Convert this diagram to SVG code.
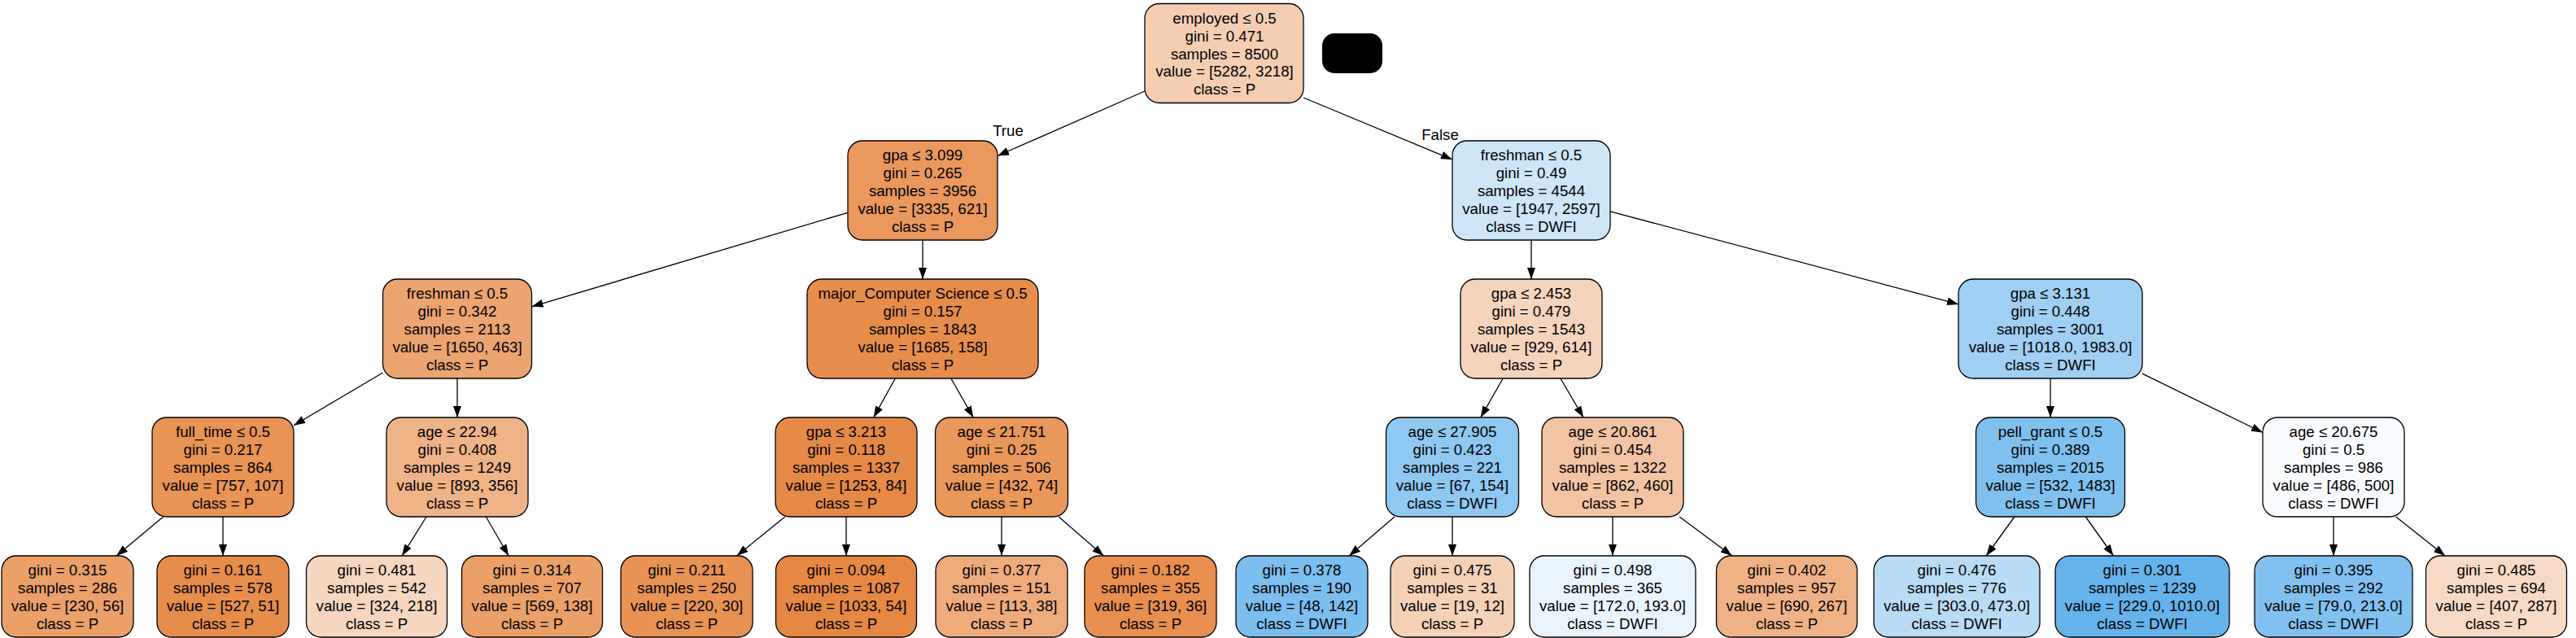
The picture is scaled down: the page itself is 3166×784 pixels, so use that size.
<svg xmlns="http://www.w3.org/2000/svg" width="3166" height="784" viewBox="0 0 3166 784">
<defs>
<style>
.node rect{stroke:#000;stroke-width:1.3}
.node text,.lbl{font-family:"Liberation Sans",Arial,Helvetica,sans-serif;font-size:18.67px;text-anchor:middle;fill:#000}
.edges path{stroke:#000;stroke-width:1.3;fill:none;marker-end:url(#ah)}
</style>
<marker id="ah" viewBox="0 0 14 10" refX="14" refY="5" markerWidth="14" markerHeight="10" markerUnits="userSpaceOnUse" orient="auto"><path d="M0,0 L14,5 L0,10 z" fill="#000"/></marker>
</defs>
<rect width="3166" height="784" fill="#fff"/>
<g class="edges" id="connectors">
<path d="M1407,112 L1226,191.5"/>
<path d="M1602,120 L1785,196"/>
<path d="M1042,261.3 L653.5,376.8"/>
<path d="M1134,295 L1134,343"/>
<path d="M1882,295 L1882,343"/>
<path d="M1979,259.8 L2407,373.9"/>
<path d="M470.5,458 L361,522.7"/>
<path d="M562,465 L562,513"/>
<path d="M1100.3,465 L1073.7,513"/>
<path d="M1168.8,465 L1196.2,513"/>
<path d="M1847.2,465 L1819.8,513"/>
<path d="M1917.9,465 L1946.1,513"/>
<path d="M2520,465 L2520,513"/>
<path d="M2633,459.2 L2781,531.5"/>
<path d="M200.7,635 L143.1,683"/>
<path d="M274,635 L274,683"/>
<path d="M524,635 L494.1,683"/>
<path d="M597.3,635 L625.1,683"/>
<path d="M964.8,635 L905.6,683"/>
<path d="M1040,635 L1040,683"/>
<path d="M1231,635 L1231,683"/>
<path d="M1301.2,635 L1356.4,683"/>
<path d="M1714,635 L1658.2,683"/>
<path d="M1785,635 L1785,683"/>
<path d="M1982,635 L1982,683"/>
<path d="M2064.1,635 L2128.7,683"/>
<path d="M2475.9,635 L2441.2,683"/>
<path d="M2563.3,635 L2597.5,683"/>
<path d="M2868,635 L2868,683"/>
<path d="M2944.7,635 L3005.1,683"/>
<text class="lbl" x="1239" y="167">True</text>
<text class="lbl" x="1770" y="172">False</text>
</g>
<rect id="blob" x="1625" y="41" width="74" height="49" rx="15" fill="#000"/>
<g id="n0" class="node"><rect x="1407" y="4.5" width="195" height="122" rx="18" fill="#f5ceb2"/><text x="1505" y="28.9">employed ≤ 0.5</text><text x="1505" y="50.7">gini = 0.471</text><text x="1505" y="72.5">samples = 8500</text><text x="1505" y="94.3">value = [5282, 3218]</text><text x="1505" y="116.1">class = P</text></g>
<g id="n1" class="node"><rect x="1042" y="173" width="184" height="122" rx="18" fill="#ea985e"/><text x="1134" y="197.4">gpa ≤ 3.099</text><text x="1134" y="219.2">gini = 0.265</text><text x="1134" y="241">samples = 3956</text><text x="1134" y="262.8">value = [3335, 621]</text><text x="1134" y="284.6">class = P</text></g>
<g id="n16" class="node"><rect x="1785" y="173" width="194" height="122" rx="18" fill="#cde6f8"/><text x="1882" y="197.4">freshman ≤ 0.5</text><text x="1882" y="219.2">gini = 0.49</text><text x="1882" y="241">samples = 4544</text><text x="1882" y="262.8">value = [1947, 2597]</text><text x="1882" y="284.6">class = DWFI</text></g>
<g id="n2" class="node"><rect x="470.5" y="343" width="183" height="122" rx="18" fill="#eca471"/><text x="562" y="367.4">freshman ≤ 0.5</text><text x="562" y="389.2">gini = 0.342</text><text x="562" y="411">samples = 2113</text><text x="562" y="432.8">value = [1650, 463]</text><text x="562" y="454.6">class = P</text></g>
<g id="n9" class="node"><rect x="992" y="343" width="284" height="122" rx="18" fill="#e78d4c"/><text x="1134" y="367.4">major_Computer Science ≤ 0.5</text><text x="1134" y="389.2">gini = 0.157</text><text x="1134" y="411">samples = 1843</text><text x="1134" y="432.8">value = [1685, 158]</text><text x="1134" y="454.6">class = P</text></g>
<g id="n17" class="node"><rect x="1795" y="343" width="174" height="122" rx="18" fill="#f6d4bc"/><text x="1882" y="367.4">gpa ≤ 2.453</text><text x="1882" y="389.2">gini = 0.479</text><text x="1882" y="411">samples = 1543</text><text x="1882" y="432.8">value = [929, 614]</text><text x="1882" y="454.6">class = P</text></g>
<g id="n24" class="node"><rect x="2407" y="343" width="226" height="122" rx="18" fill="#9fcff2"/><text x="2520" y="367.4">gpa ≤ 3.131</text><text x="2520" y="389.2">gini = 0.448</text><text x="2520" y="411">samples = 3001</text><text x="2520" y="432.8">value = [1018.0, 1983.0]</text><text x="2520" y="454.6">class = DWFI</text></g>
<g id="n3" class="node"><rect x="187" y="513" width="174" height="122" rx="18" fill="#e99355"/><text x="274" y="537.4">full_time ≤ 0.5</text><text x="274" y="559.2">gini = 0.217</text><text x="274" y="581">samples = 864</text><text x="274" y="602.8">value = [757, 107]</text><text x="274" y="624.6">class = P</text></g>
<g id="n6" class="node"><rect x="475" y="513" width="174" height="122" rx="18" fill="#efb388"/><text x="562" y="537.4">age ≤ 22.94</text><text x="562" y="559.2">gini = 0.408</text><text x="562" y="581">samples = 1249</text><text x="562" y="602.8">value = [893, 356]</text><text x="562" y="624.6">class = P</text></g>
<g id="n10" class="node"><rect x="953" y="513" width="174" height="122" rx="18" fill="#e78946"/><text x="1040" y="537.4">gpa ≤ 3.213</text><text x="1040" y="559.2">gini = 0.118</text><text x="1040" y="581">samples = 1337</text><text x="1040" y="602.8">value = [1253, 84]</text><text x="1040" y="624.6">class = P</text></g>
<g id="n13" class="node"><rect x="1149.5" y="513" width="163" height="122" rx="18" fill="#e9975b"/><text x="1231" y="537.4">age ≤ 21.751</text><text x="1231" y="559.2">gini = 0.25</text><text x="1231" y="581">samples = 506</text><text x="1231" y="602.8">value = [432, 74]</text><text x="1231" y="624.6">class = P</text></g>
<g id="n18" class="node"><rect x="1703.5" y="513" width="163" height="122" rx="18" fill="#8fc8f0"/><text x="1785" y="537.4">age ≤ 27.905</text><text x="1785" y="559.2">gini = 0.423</text><text x="1785" y="581">samples = 221</text><text x="1785" y="602.8">value = [67, 154]</text><text x="1785" y="624.6">class = DWFI</text></g>
<g id="n21" class="node"><rect x="1895" y="513" width="174" height="122" rx="18" fill="#f3c4a3"/><text x="1982" y="537.4">age ≤ 20.861</text><text x="1982" y="559.2">gini = 0.454</text><text x="1982" y="581">samples = 1322</text><text x="1982" y="602.8">value = [862, 460]</text><text x="1982" y="624.6">class = P</text></g>
<g id="n25" class="node"><rect x="2428.5" y="513" width="183" height="122" rx="18" fill="#80c0ee"/><text x="2520" y="537.4">pell_grant ≤ 0.5</text><text x="2520" y="559.2">gini = 0.389</text><text x="2520" y="581">samples = 2015</text><text x="2520" y="602.8">value = [532, 1483]</text><text x="2520" y="624.6">class = DWFI</text></g>
<g id="n28" class="node"><rect x="2781" y="513" width="174" height="122" rx="18" fill="#f9fcfe"/><text x="2868" y="537.4">age ≤ 20.675</text><text x="2868" y="559.2">gini = 0.5</text><text x="2868" y="581">samples = 986</text><text x="2868" y="602.8">value = [486, 500]</text><text x="2868" y="624.6">class = DWFI</text></g>
<g id="n4" class="node"><rect x="2" y="683" width="162" height="100" rx="18" fill="#eba069"/><text x="83" y="707.4">gini = 0.315</text><text x="83" y="729.2">samples = 286</text><text x="83" y="751">value = [230, 56]</text><text x="83" y="772.8">class = P</text></g>
<g id="n5" class="node"><rect x="193" y="683" width="162" height="100" rx="18" fill="#e78d4c"/><text x="274" y="707.4">gini = 0.161</text><text x="274" y="729.2">samples = 578</text><text x="274" y="751">value = [527, 51]</text><text x="274" y="772.8">class = P</text></g>
<g id="n7" class="node"><rect x="376.5" y="683" width="173" height="100" rx="18" fill="#f6d6be"/><text x="463" y="707.4">gini = 0.481</text><text x="463" y="729.2">samples = 542</text><text x="463" y="751">value = [324, 218]</text><text x="463" y="772.8">class = P</text></g>
<g id="n8" class="node"><rect x="567.5" y="683" width="173" height="100" rx="18" fill="#eba069"/><text x="654" y="707.4">gini = 0.314</text><text x="654" y="729.2">samples = 707</text><text x="654" y="751">value = [569, 138]</text><text x="654" y="772.8">class = P</text></g>
<g id="n11" class="node"><rect x="763" y="683" width="162" height="100" rx="18" fill="#e89254"/><text x="844" y="707.4">gini = 0.211</text><text x="844" y="729.2">samples = 250</text><text x="844" y="751">value = [220, 30]</text><text x="844" y="772.8">class = P</text></g>
<g id="n12" class="node"><rect x="953.5" y="683" width="173" height="100" rx="18" fill="#e68843"/><text x="1040" y="707.4">gini = 0.094</text><text x="1040" y="729.2">samples = 1087</text><text x="1040" y="751">value = [1033, 54]</text><text x="1040" y="772.8">class = P</text></g>
<g id="n14" class="node"><rect x="1150" y="683" width="162" height="100" rx="18" fill="#eeab7c"/><text x="1231" y="707.4">gini = 0.377</text><text x="1231" y="729.2">samples = 151</text><text x="1231" y="751">value = [113, 38]</text><text x="1231" y="772.8">class = P</text></g>
<g id="n15" class="node"><rect x="1333" y="683" width="162" height="100" rx="18" fill="#e88f4f"/><text x="1414" y="707.4">gini = 0.182</text><text x="1414" y="729.2">samples = 355</text><text x="1414" y="751">value = [319, 36]</text><text x="1414" y="772.8">class = P</text></g>
<g id="n19" class="node"><rect x="1519" y="683" width="162" height="100" rx="18" fill="#7cbeee"/><text x="1600" y="707.4">gini = 0.378</text><text x="1600" y="729.2">samples = 190</text><text x="1600" y="751">value = [48, 142]</text><text x="1600" y="772.8">class = DWFI</text></g>
<g id="n20" class="node"><rect x="1709" y="683" width="152" height="100" rx="18" fill="#f5d1b6"/><text x="1785" y="707.4">gini = 0.475</text><text x="1785" y="729.2">samples = 31</text><text x="1785" y="751">value = [19, 12]</text><text x="1785" y="772.8">class = P</text></g>
<g id="n22" class="node"><rect x="1880" y="683" width="204" height="100" rx="18" fill="#eaf4fc"/><text x="1982" y="707.4">gini = 0.498</text><text x="1982" y="729.2">samples = 365</text><text x="1982" y="751">value = [172.0, 193.0]</text><text x="1982" y="772.8">class = DWFI</text></g>
<g id="n23" class="node"><rect x="2109.5" y="683" width="173" height="100" rx="18" fill="#efb286"/><text x="2196" y="707.4">gini = 0.402</text><text x="2196" y="729.2">samples = 957</text><text x="2196" y="751">value = [690, 267]</text><text x="2196" y="772.8">class = P</text></g>
<g id="n26" class="node"><rect x="2303" y="683" width="204" height="100" rx="18" fill="#b8dcf6"/><text x="2405" y="707.4">gini = 0.476</text><text x="2405" y="729.2">samples = 776</text><text x="2405" y="751">value = [303.0, 473.0]</text><text x="2405" y="772.8">class = DWFI</text></g>
<g id="n27" class="node"><rect x="2526" y="683" width="214" height="100" rx="18" fill="#66b3eb"/><text x="2633" y="707.4">gini = 0.301</text><text x="2633" y="729.2">samples = 1239</text><text x="2633" y="751">value = [229.0, 1010.0]</text><text x="2633" y="772.8">class = DWFI</text></g>
<g id="n29" class="node"><rect x="2771" y="683" width="194" height="100" rx="18" fill="#82c1ef"/><text x="2868" y="707.4">gini = 0.395</text><text x="2868" y="729.2">samples = 292</text><text x="2868" y="751">value = [79.0, 213.0]</text><text x="2868" y="772.8">class = DWFI</text></g>
<g id="n30" class="node"><rect x="2981.5" y="683" width="173" height="100" rx="18" fill="#f7dac5"/><text x="3068" y="707.4">gini = 0.485</text><text x="3068" y="729.2">samples = 694</text><text x="3068" y="751">value = [407, 287]</text><text x="3068" y="772.8">class = P</text></g>
</svg>
